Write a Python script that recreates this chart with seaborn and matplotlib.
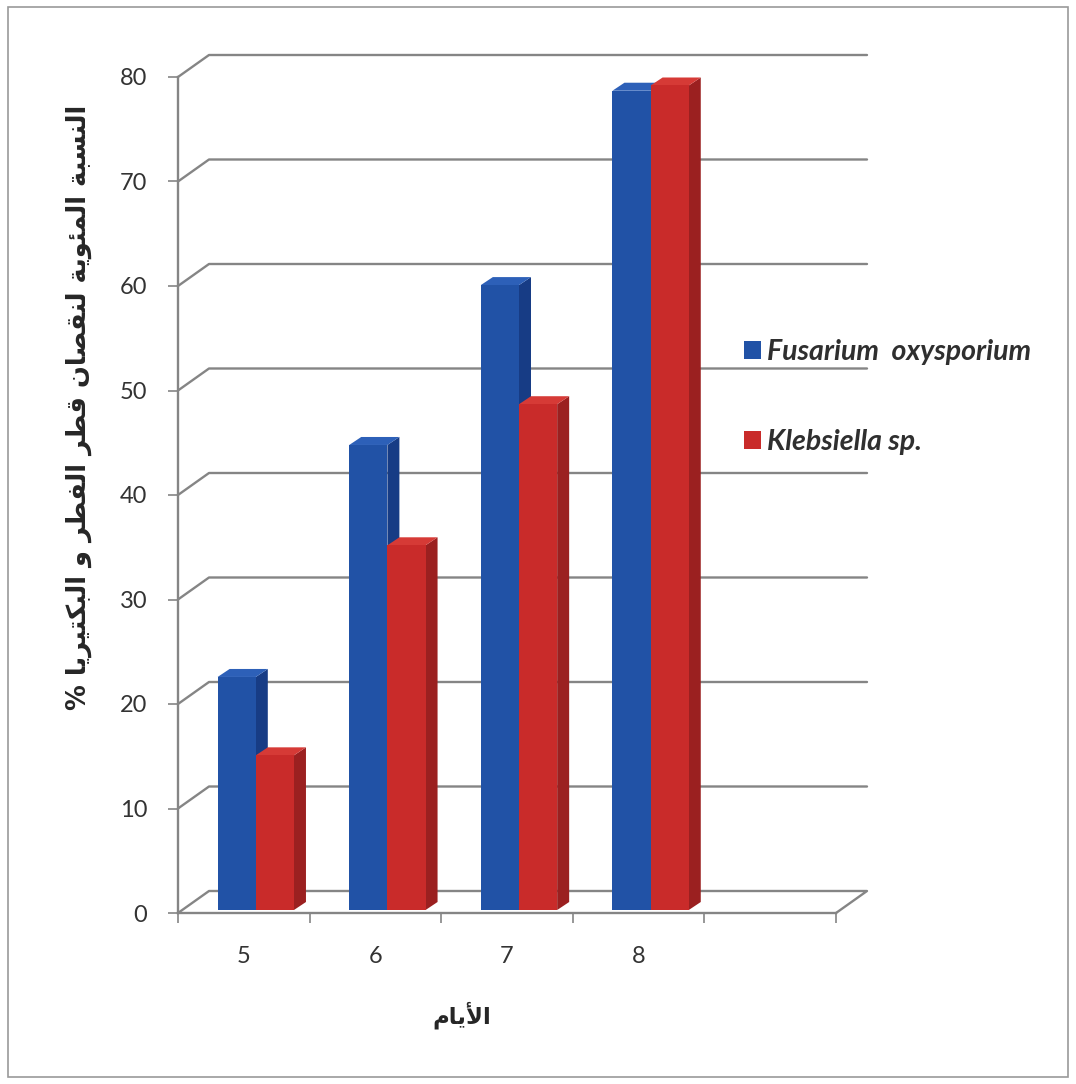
import numpy as np
import pandas as pd
import matplotlib
matplotlib.use("Agg")
import matplotlib.pyplot as plt
import seaborn as sns
from matplotlib.patches import Polygon, Rectangle, Patch
from matplotlib.lines import Line2D
from matplotlib.transforms import ScaledTranslation, IdentityTransform
from matplotlib.font_manager import FontProperties

# ---- data -------------------------------------------------------------
days = ["5", "6", "7", "8"]
series_names = ["Fusarium  oxysporium", "Klebsiella sp."]
fusarium = [22.3, 44.5, 59.8, 78.4]
klebsiella = [14.8, 34.9, 48.4, 78.9]
y_ticks = [0, 10, 20, 30, 40, 50, 60, 70, 80]

y_title = "النسبة المئوية لنقصان قطر الفطر و البكتيريا %"
x_title = "الأيام"

# ---- colours ----------------------------------------------------------
BLUE = "#2152a6"
BLUE_SIDE = "#173c85"
BLUE_TOP = "#2d60b8"
RED = "#c92b2a"
RED_SIDE = "#9b2020"
RED_TOP = "#d63a36"
GRID = "#858585"
TEXT = "#333333"

# ---- minimal Arabic shaping (contextual forms + visual order) ----------
FORMS = {
    "ا": ("\uFE8D", "\uFE8E", None, None),
    "أ": ("\uFE83", "\uFE84", None, None),
    "ة": ("\uFE93", "\uFE94", None, None),
    "ر": ("\uFEAD", "\uFEAE", None, None),
    "و": ("\uFEED", "\uFEEE", None, None),
    "ب": ("\uFE8F", "\uFE90", "\uFE91", "\uFE92"),
    "ت": ("\uFE95", "\uFE96", "\uFE97", "\uFE98"),
    "س": ("\uFEB1", "\uFEB2", "\uFEB3", "\uFEB4"),
    "ص": ("\uFEB9", "\uFEBA", "\uFEBB", "\uFEBC"),
    "ط": ("\uFEC1", "\uFEC2", "\uFEC3", "\uFEC4"),
    "ف": ("\uFED1", "\uFED2", "\uFED3", "\uFED4"),
    "ق": ("\uFED5", "\uFED6", "\uFED7", "\uFED8"),
    "ك": ("\uFED9", "\uFEDA", "\uFEDB", "\uFEDC"),
    "ل": ("\uFEDD", "\uFEDE", "\uFEDF", "\uFEE0"),
    "م": ("\uFEE1", "\uFEE2", "\uFEE3", "\uFEE4"),
    "ن": ("\uFEE5", "\uFEE6", "\uFEE7", "\uFEE8"),
    "ي": ("\uFEF1", "\uFEF2", "\uFEF3", "\uFEF4"),
    "ئ": ("\uFE89", "\uFE8A", "\uFE8B", "\uFE8C"),
}
LAM_ALEF = {"ا": ("\uFEFB", "\uFEFC"), "أ": ("\uFEF7", "\uFEF8")}


def shape_arabic(text):
    def joins_next(c):
        return c in FORMS and FORMS[c][2] is not None

    out = []
    i, n = 0, len(text)
    while i < n:
        c = text[i]
        if c not in FORMS:
            out.append(c)
            i += 1
            continue
        prev = text[i - 1] if i > 0 else ""
        cp = joins_next(prev)
        if c == "ل" and i + 1 < n and text[i + 1] in LAM_ALEF:
            iso, fin = LAM_ALEF[text[i + 1]]
            out.append(fin if cp else iso)
            i += 2
            continue
        nxt = text[i + 1] if i + 1 < n else ""
        cn = joins_next(c) and nxt in FORMS
        iso, fin, ini, med = FORMS[c]
        out.append(med if (cp and cn) else fin if cp else ini if cn else iso)
        i += 1
    return "".join(reversed(out))


# ---- figure -----------------------------------------------------------
sns.set_theme(style="white")
plt.rcParams["font.family"] = ["Lato", "DejaVu Sans"]

W, H = 1076, 1084
fig = plt.figure(figsize=(W / 100, H / 100), dpi=100)
fig.patch.set_facecolor("white")


def fx(px):
    return px / W


def fy(py):
    return 1 - py / H


ax = fig.add_axes([fx(178), fy(913), fx(836) - fx(178), fy(77) - fy(913)])
ax.set_facecolor("none")

df = pd.DataFrame({
    "day": days * 2,
    "organism": [series_names[0]] * len(days) + [series_names[1]] * len(days),
    "value": fusarium + klebsiella,
})

sns.barplot(data=df, x="day", y="value", hue="organism", order=days,
            hue_order=series_names, palette=[BLUE, RED], width=0.58,
            saturation=1, errorbar=None, legend=False, linewidth=0, ax=ax)

ax.set_xlim(-0.5, 4.5)
ax.set_ylim(0, 80)

# ---- 3-D look: back wall, floor, bar depth ----------------------------
D = np.array([31.0, 22.0])       # wall depth in pixels
BAR_SHIFT = np.array([12.0, 3.0])
BAR_D = np.array([12.0, 8.0])
ident = IdentityTransform()

for v in y_ticks:
    a = ax.transData.transform((-0.5, v))
    b = ax.transData.transform((4.5, v))
    xs = [a[0], a[0] + D[0], b[0] + D[0]]
    ys = [a[1], a[1] + D[1], b[1] + D[1]]
    if v == 0:
        xs += [b[0]]
        ys += [b[1]]
    ax.add_line(Line2D(xs, ys, transform=ident, color=GRID, lw=1.7,
                       clip_on=False, zorder=1))

for p in list(ax.patches):
    w = p.get_width()
    x0 = p.get_x()
    xc = x0 + w / 2
    cat = int(round(xc))
    j = 0 if xc < cat else 1
    h = p.get_height()
    z = 3 + cat * 0.1 + j * 0.03
    side_c, top_c = (BLUE_SIDE, BLUE_TOP) if j == 0 else (RED_SIDE, RED_TOP)

    def disp(x, y):
        return ax.transData.transform((x, y)) + BAR_SHIFT

    br, tl, tr = disp(x0 + w, 0), disp(x0, h), disp(x0 + w, h)
    ax.add_patch(Polygon([br, tr, tr + BAR_D, br + BAR_D], closed=True,
                         transform=ident, facecolor=side_c, edgecolor="none",
                         clip_on=False, zorder=z))
    ax.add_patch(Polygon([tl, tr, tr + BAR_D, tl + BAR_D], closed=True,
                         transform=ident, facecolor=top_c, edgecolor="none",
                         clip_on=False, zorder=z))
    p.set_transform(ax.transData + ScaledTranslation(BAR_SHIFT[0] / 100,
                                                     BAR_SHIFT[1] / 100,
                                                     fig.dpi_scale_trans))
    p.set_zorder(z + 0.01)
    p.set_clip_on(False)

# ---- axes, ticks ------------------------------------------------------
for s in ("top", "right"):
    ax.spines[s].set_visible(False)
for s in ("left", "bottom"):
    ax.spines[s].set_color(GRID)
    ax.spines[s].set_linewidth(1.7)
    ax.spines[s].set_zorder(2)

ax.set_yticks(y_ticks)
ax.set_yticklabels([str(t) for t in y_ticks])
ax.tick_params(axis="y", which="major", left=True, length=7, width=1.2,
               color=GRID, pad=15, labelsize=17, labelcolor=TEXT)
ax.set_xticks(range(len(days)))
ax.set_xticklabels(days)
ax.set_xticks(np.arange(-0.5, 5.0, 1.0), minor=True)
ax.tick_params(axis="x", which="major", bottom=True, length=0, pad=24,
               labelsize=17, labelcolor=TEXT)
ax.tick_params(axis="x", which="minor", bottom=True, length=7, width=1.2,
               color=GRID)
ax.set_xlabel("")
ax.set_ylabel("")
ax.grid(False)

# ---- titles -----------------------------------------------------------
fig.text(fx(79), fy(407), shape_arabic(y_title), rotation=90, ha="center",
         va="center", fontsize=18.5, fontweight="bold", color="#262626",
         family=["DejaVu Sans"])
fig.text(fx(462), fy(1015), shape_arabic(x_title), ha="center", va="center",
         fontsize=16.5, fontweight="bold", color="#262626",
         family=["DejaVu Sans"])

# ---- legend -----------------------------------------------------------
handles = [Patch(facecolor=BLUE, edgecolor="none"),
           Patch(facecolor=RED, edgecolor="none")]
fig.legend(handles, series_names, loc="center left",
           bbox_to_anchor=(fx(744), fy(397)), frameon=False,
           prop=FontProperties(family="Lato", weight="bold", style="italic",
                               size=20.5),
           labelcolor="#2f2f2f", handlelength=0.58, handleheight=0.58,
           handletextpad=0.22, labelspacing=2.25, borderpad=0,
           borderaxespad=0)

# ---- outer frame ------------------------------------------------------
fig.patches.append(Rectangle((fx(8), fy(1077)), fx(1068) - fx(8),
                             fy(7) - fy(1077), transform=fig.transFigure,
                             fill=False, edgecolor="#9a9a9a", lw=1.2))

fig.savefig("out.png", dpi=100, facecolor="white")
